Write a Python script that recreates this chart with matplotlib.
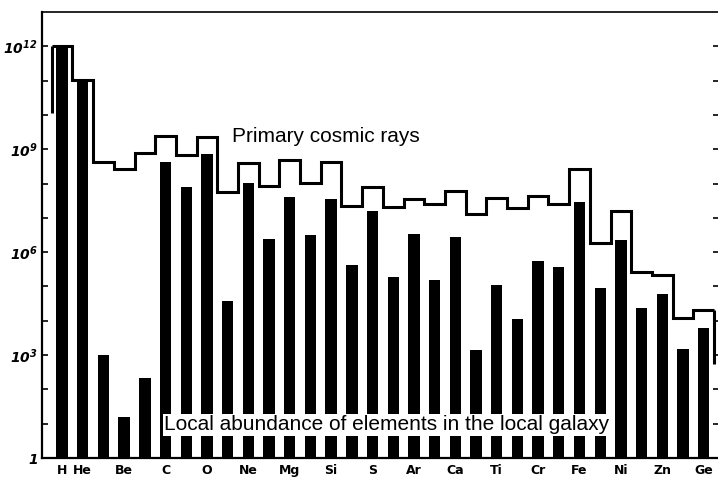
import matplotlib
matplotlib.use('Agg')
import matplotlib.pyplot as plt
import numpy as np
from matplotlib.ticker import FixedLocator, FuncFormatter

# atomic number Z = 1 (H) ... 32 (Ge)
elements = ['H', 'He', 'Li', 'Be', 'B', 'C', 'N', 'O', 'F', 'Ne', 'Na', 'Mg',
            'Al', 'Si', 'P', 'S', 'Cl', 'Ar', 'K', 'Ca', 'Sc', 'Ti', 'V', 'Cr',
            'Mn', 'Fe', 'Co', 'Ni', 'Cu', 'Zn', 'Ga', 'Ge']
labelled = ['H', 'He', 'Be', 'C', 'O', 'Ne', 'Mg', 'Si', 'S', 'Ar', 'Ca',
            'Ti', 'Cr', 'Fe', 'Ni', 'Zn', 'Ge']

# log10 abundances
local_log = [12.0, 11.03, 3.0, 1.17, 2.34, 8.63, 7.9, 8.87, 4.57, 8.02, 6.38,
             7.61, 6.5, 7.55, 5.62, 7.2, 5.27, 6.53, 5.18, 6.44, 3.16, 5.03,
             4.04, 5.74, 5.56, 7.46, 4.95, 6.35, 4.36, 4.77, 3.19, 3.78]
cosmic_log = [12.0, 11.03, 8.63, 8.43, 8.9, 9.39, 8.84, 9.36, 7.76, 8.6, 7.93,
              8.69, 8.02, 8.63, 7.35, 7.9, 7.32, 7.55, 7.4, 7.78, 7.11, 7.58,
              7.29, 7.64, 7.4, 8.43, 6.26, 7.2, 5.41, 5.33, 4.07, 4.3]
cosmic_start_log = 10.07
cosmic_end_log = 2.75

plt.rcParams['mathtext.fontset'] = 'custom'
plt.rcParams['mathtext.bf'] = 'DejaVu Sans:italic:bold'
plt.rcParams['mathtext.rm'] = 'DejaVu Sans:italic:bold'

z = np.arange(1, len(elements) + 1)
local = 10.0 ** np.array(local_log)
cosmic = 10.0 ** np.array(cosmic_log)

fig = plt.figure(figsize=(7.18, 4.8), dpi=100)
ax = fig.add_axes([42 / 718, 22 / 480, 677 / 718, 446 / 480])

ax.bar(z, local, width=0.55, bottom=1, color='black', zorder=2)

edges = np.append(z - 0.5, z[-1] + 0.5)
ax.stairs(cosmic, edges, baseline=None, color='black', lw=2.2, zorder=3)
ax.vlines(edges[0], 10 ** cosmic_start_log, cosmic[0], color='black', lw=2.2)
ax.vlines(edges[-1], 10 ** cosmic_end_log, cosmic[-1], color='black', lw=2.2)

ax.set_yscale('log')
ax.set_ylim(1, 1e13)
ax.set_xlim(0.03, 32.74)

decades = [10.0 ** k for k in range(0, 13)]
ax.yaxis.set_major_locator(FixedLocator(decades))
ax.yaxis.set_minor_locator(FixedLocator([]))


def ylab(v, pos):
    k = int(round(np.log10(v)))
    if k == 0:
        return r'$\mathbf{1}$'
    if k % 3 == 0:
        return r'$\mathbf{10^{%d}}$' % k
    return ''


ax.yaxis.set_major_formatter(FuncFormatter(ylab))
ax.tick_params(axis='y', which='major', direction='in', length=4, width=1.2,
               right=True, labelsize=10, pad=3)

ax.set_xticks([elements.index(e) + 1 for e in labelled])
ax.set_xticklabels(labelled, fontsize=9, fontweight='bold')
ax.tick_params(axis='x', length=0, pad=4)

ax.spines['left'].set_linewidth(1.6)
ax.spines['bottom'].set_linewidth(1.6)
ax.spines['top'].set_linewidth(1.2)
ax.spines['right'].set_visible(False)

ax.text(13.75, 10 ** 9.36, 'Primary cosmic rays', fontsize=15,
        family='Liberation Sans', va='center', ha='center', zorder=4)
ax.text(16.68, 10 ** 0.97, 'Local abundance of elements in the local galaxy',
        fontsize=15, family='Liberation Sans', va='center', ha='center',
        zorder=5, bbox=dict(facecolor='white', edgecolor='none', pad=1.0))

fig.savefig('out.png', dpi=100)
